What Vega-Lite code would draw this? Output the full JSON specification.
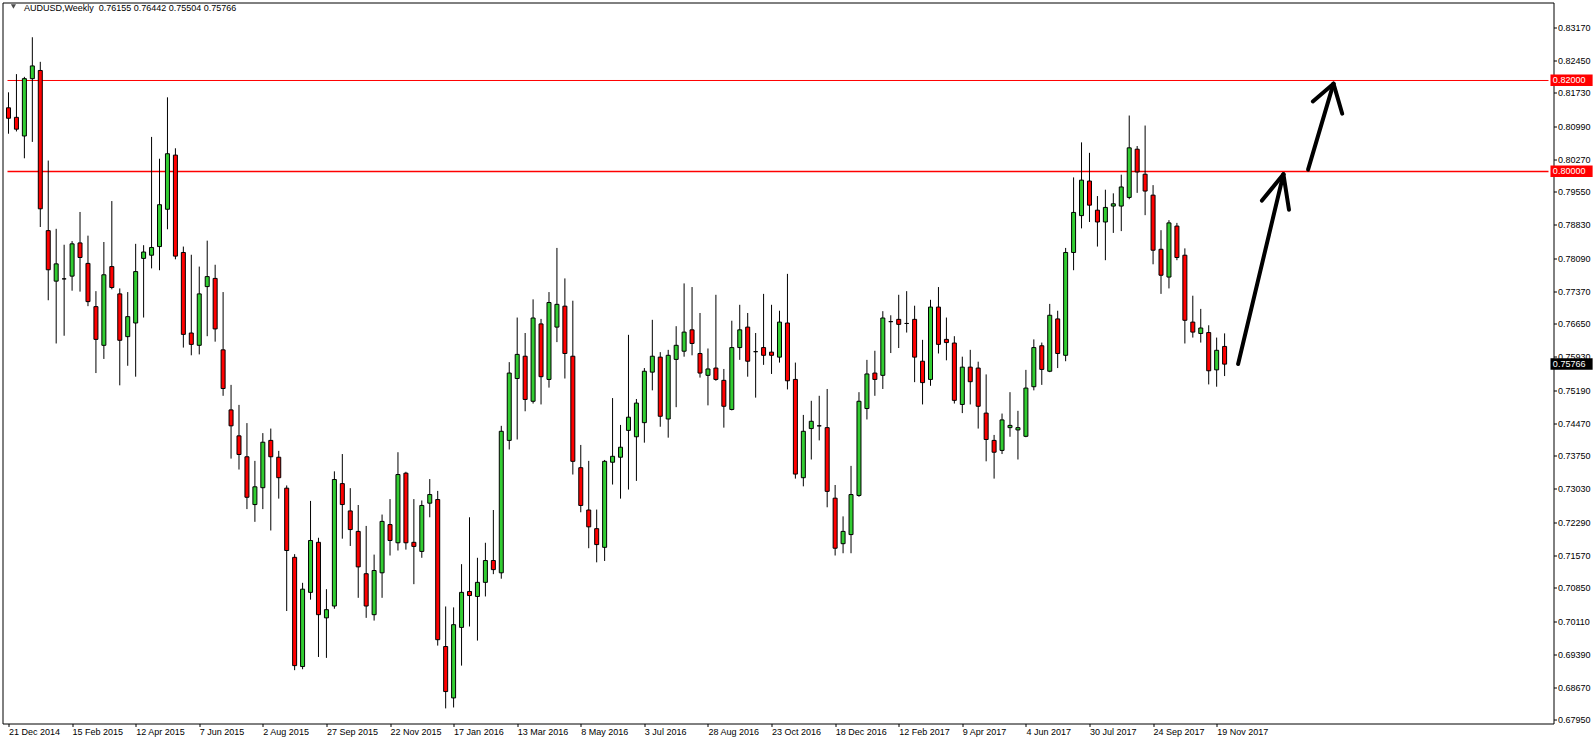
{
  "$schema": "https://vega.github.io/schema/vega-lite/v6.json",
  "width": 1551,
  "height": 721,
  "autosize": "none",
  "padding": {"left": 2.5, "top": 2.5, "right": 42.5, "bottom": 20.5},
  "background": "white",
  "config": {
    "view": {"stroke": "black", "strokeWidth": 1},
    "font": "Liberation Sans",
    "axis": {"labelFont": "Liberation Sans", "labelFontSize": 9, "labelColor": "black", "tickColor": "black", "domain": false, "grid": false, "title": null}
  },
  "datasets": {
    "candles": [
      {"i":0,"o":0.8140,"h":0.8174,"l":0.8083,"c":0.8117},
      {"i":1,"o":0.8119,"h":0.8214,"l":0.8088,"c":0.8093},
      {"i":2,"o":0.8078,"h":0.8208,"l":0.8029,"c":0.8204},
      {"i":3,"o":0.8204,"h":0.8295,"l":0.8065,"c":0.8232},
      {"i":4,"o":0.8222,"h":0.8241,"l":0.7878,"c":0.7918},
      {"i":5,"o":0.7870,"h":0.8024,"l":0.7717,"c":0.7784},
      {"i":6,"o":0.7759,"h":0.7874,"l":0.7622,"c":0.7797},
      {"i":7,"o":0.7764,"h":0.7839,"l":0.7639,"c":0.7764},
      {"i":8,"o":0.7770,"h":0.7847,"l":0.7738,"c":0.7841},
      {"i":9,"o":0.7843,"h":0.7911,"l":0.7736,"c":0.7811},
      {"i":10,"o":0.7798,"h":0.7859,"l":0.7704,"c":0.7714},
      {"i":11,"o":0.7703,"h":0.7737,"l":0.7557,"c":0.7631},
      {"i":12,"o":0.7618,"h":0.7845,"l":0.7588,"c":0.7773},
      {"i":13,"o":0.7791,"h":0.7935,"l":0.7741,"c":0.7745},
      {"i":14,"o":0.7731,"h":0.7743,"l":0.7530,"c":0.7629},
      {"i":15,"o":0.7637,"h":0.7735,"l":0.7573,"c":0.7681},
      {"i":16,"o":0.7667,"h":0.7841,"l":0.7549,"c":0.7780},
      {"i":17,"o":0.7809,"h":0.7838,"l":0.7679,"c":0.7823},
      {"i":18,"o":0.7816,"h":0.8076,"l":0.7787,"c":0.7833},
      {"i":19,"o":0.7835,"h":0.8028,"l":0.7783,"c":0.7927},
      {"i":20,"o":0.7917,"h":0.8163,"l":0.7873,"c":0.8039},
      {"i":21,"o":0.8036,"h":0.8051,"l":0.7807,"c":0.7814},
      {"i":22,"o":0.7822,"h":0.7835,"l":0.7613,"c":0.7642},
      {"i":23,"o":0.7645,"h":0.7817,"l":0.7596,"c":0.7620},
      {"i":24,"o":0.7618,"h":0.7791,"l":0.7598,"c":0.7731},
      {"i":25,"o":0.7747,"h":0.7848,"l":0.7638,"c":0.7769},
      {"i":26,"o":0.7765,"h":0.7795,"l":0.7626,"c":0.7654},
      {"i":27,"o":0.7608,"h":0.7735,"l":0.7507,"c":0.7523},
      {"i":28,"o":0.7476,"h":0.7531,"l":0.7369,"c":0.7441},
      {"i":29,"o":0.7419,"h":0.7487,"l":0.7345,"c":0.7378},
      {"i":30,"o":0.7373,"h":0.7447,"l":0.7258,"c":0.7284},
      {"i":31,"o":0.7268,"h":0.7364,"l":0.7230,"c":0.7307},
      {"i":32,"o":0.7305,"h":0.7425,"l":0.7258,"c":0.7405},
      {"i":33,"o":0.7409,"h":0.7435,"l":0.7211,"c":0.7373},
      {"i":34,"o":0.7372,"h":0.7386,"l":0.7281,"c":0.7327},
      {"i":35,"o":0.7304,"h":0.7310,"l":0.7034,"c":0.7167},
      {"i":36,"o":0.7152,"h":0.7159,"l":0.6904,"c":0.6914},
      {"i":37,"o":0.6912,"h":0.7096,"l":0.6906,"c":0.7082},
      {"i":38,"o":0.7075,"h":0.7276,"l":0.7059,"c":0.7189},
      {"i":39,"o":0.7185,"h":0.7195,"l":0.6933,"c":0.7026},
      {"i":40,"o":0.7019,"h":0.7082,"l":0.6931,"c":0.7037},
      {"i":41,"o":0.7045,"h":0.7341,"l":0.7039,"c":0.7323},
      {"i":42,"o":0.7314,"h":0.7379,"l":0.7193,"c":0.7268},
      {"i":43,"o":0.7254,"h":0.7304,"l":0.7177,"c":0.7213},
      {"i":44,"o":0.7209,"h":0.7267,"l":0.7063,"c":0.7131},
      {"i":45,"o":0.7116,"h":0.7221,"l":0.7019,"c":0.7045},
      {"i":46,"o":0.7026,"h":0.7158,"l":0.7013,"c":0.7123},
      {"i":47,"o":0.7118,"h":0.7246,"l":0.7063,"c":0.7231},
      {"i":48,"o":0.7224,"h":0.7280,"l":0.7156,"c":0.7189},
      {"i":49,"o":0.7184,"h":0.7383,"l":0.7167,"c":0.7334},
      {"i":50,"o":0.7337,"h":0.7340,"l":0.7169,"c":0.7184},
      {"i":51,"o":0.7185,"h":0.7280,"l":0.7093,"c":0.7176},
      {"i":52,"o":0.7165,"h":0.7277,"l":0.7151,"c":0.7266},
      {"i":53,"o":0.7271,"h":0.7324,"l":0.7240,"c":0.7290},
      {"i":54,"o":0.7279,"h":0.7298,"l":0.6958,"c":0.6971},
      {"i":55,"o":0.6956,"h":0.7044,"l":0.6820,"c":0.6857},
      {"i":56,"o":0.6843,"h":0.7042,"l":0.6822,"c":0.7004},
      {"i":57,"o":0.6998,"h":0.7137,"l":0.6914,"c":0.7075},
      {"i":58,"o":0.7077,"h":0.7240,"l":0.7000,"c":0.7068},
      {"i":59,"o":0.7066,"h":0.7151,"l":0.6969,"c":0.7097},
      {"i":60,"o":0.7097,"h":0.7184,"l":0.7066,"c":0.7145},
      {"i":61,"o":0.7145,"h":0.7256,"l":0.7115,"c":0.7125},
      {"i":62,"o":0.7118,"h":0.7441,"l":0.7105,"c":0.7429},
      {"i":63,"o":0.7409,"h":0.7581,"l":0.7389,"c":0.7557},
      {"i":64,"o":0.7545,"h":0.7679,"l":0.7411,"c":0.7598},
      {"i":65,"o":0.7594,"h":0.7645,"l":0.7473,"c":0.7499},
      {"i":66,"o":0.7495,"h":0.7719,"l":0.7490,"c":0.7678},
      {"i":67,"o":0.7665,"h":0.7676,"l":0.7488,"c":0.7549},
      {"i":68,"o":0.7543,"h":0.7735,"l":0.7525,"c":0.7712},
      {"i":69,"o":0.7658,"h":0.7832,"l":0.7625,"c":0.7708},
      {"i":70,"o":0.7704,"h":0.7765,"l":0.7545,"c":0.7600},
      {"i":71,"o":0.7594,"h":0.7716,"l":0.7334,"c":0.7363},
      {"i":72,"o":0.7349,"h":0.7399,"l":0.7251,"c":0.7266},
      {"i":73,"o":0.7256,"h":0.7364,"l":0.7172,"c":0.7219},
      {"i":74,"o":0.7215,"h":0.7257,"l":0.7141,"c":0.7180},
      {"i":75,"o":0.7174,"h":0.7366,"l":0.7144,"c":0.7363},
      {"i":76,"o":0.7361,"h":0.7502,"l":0.7312,"c":0.7374},
      {"i":77,"o":0.7372,"h":0.7443,"l":0.7281,"c":0.7394},
      {"i":78,"o":0.7431,"h":0.7641,"l":0.7301,"c":0.7460},
      {"i":79,"o":0.7417,"h":0.7500,"l":0.7320,"c":0.7491},
      {"i":80,"o":0.7448,"h":0.7568,"l":0.7404,"c":0.7561},
      {"i":81,"o":0.7559,"h":0.7674,"l":0.7519,"c":0.7594},
      {"i":82,"o":0.7592,"h":0.7603,"l":0.7439,"c":0.7462},
      {"i":83,"o":0.7456,"h":0.7608,"l":0.7415,"c":0.7596},
      {"i":84,"o":0.7587,"h":0.7660,"l":0.7482,"c":0.7618},
      {"i":85,"o":0.7605,"h":0.7754,"l":0.7593,"c":0.7647},
      {"i":86,"o":0.7652,"h":0.7746,"l":0.7596,"c":0.7622},
      {"i":87,"o":0.7600,"h":0.7689,"l":0.7547,"c":0.7557},
      {"i":88,"o":0.7552,"h":0.7611,"l":0.7486,"c":0.7566},
      {"i":89,"o":0.7568,"h":0.7729,"l":0.7540,"c":0.7543},
      {"i":90,"o":0.7541,"h":0.7566,"l":0.7437,"c":0.7484},
      {"i":91,"o":0.7477,"h":0.7672,"l":0.7475,"c":0.7613},
      {"i":92,"o":0.7613,"h":0.7707,"l":0.7586,"c":0.7652},
      {"i":93,"o":0.7658,"h":0.7689,"l":0.7549,"c":0.7583},
      {"i":94,"o":0.7604,"h":0.7645,"l":0.7503,"c":0.7604},
      {"i":95,"o":0.7613,"h":0.7731,"l":0.7575,"c":0.7596},
      {"i":96,"o":0.7603,"h":0.7707,"l":0.7555,"c":0.7596},
      {"i":97,"o":0.7592,"h":0.7694,"l":0.7580,"c":0.7669},
      {"i":98,"o":0.7667,"h":0.7775,"l":0.7521,"c":0.7540},
      {"i":99,"o":0.7543,"h":0.7580,"l":0.7325,"c":0.7335},
      {"i":100,"o":0.7327,"h":0.7465,"l":0.7308,"c":0.7429},
      {"i":101,"o":0.7435,"h":0.7496,"l":0.7367,"c":0.7451},
      {"i":102,"o":0.7441,"h":0.7507,"l":0.7409,"c":0.7441},
      {"i":103,"o":0.7437,"h":0.7522,"l":0.7262,"c":0.7297},
      {"i":104,"o":0.7282,"h":0.7311,"l":0.7156,"c":0.7172},
      {"i":105,"o":0.7182,"h":0.7242,"l":0.7161,"c":0.7209},
      {"i":106,"o":0.7202,"h":0.7353,"l":0.7161,"c":0.7290},
      {"i":107,"o":0.7288,"h":0.7515,"l":0.7285,"c":0.7495},
      {"i":108,"o":0.7479,"h":0.7586,"l":0.7455,"c":0.7555},
      {"i":109,"o":0.7557,"h":0.7606,"l":0.7507,"c":0.7543},
      {"i":110,"o":0.7552,"h":0.7693,"l":0.7522,"c":0.7678},
      {"i":111,"o":0.7670,"h":0.7684,"l":0.7601,"c":0.7670},
      {"i":112,"o":0.7675,"h":0.7729,"l":0.7612,"c":0.7664},
      {"i":113,"o":0.7666,"h":0.7737,"l":0.7646,"c":0.7666},
      {"i":114,"o":0.7675,"h":0.7705,"l":0.7537,"c":0.7592},
      {"i":115,"o":0.7583,"h":0.7630,"l":0.7488,"c":0.7536},
      {"i":116,"o":0.7543,"h":0.7718,"l":0.7529,"c":0.7702},
      {"i":117,"o":0.7702,"h":0.7746,"l":0.7600,"c":0.7620},
      {"i":118,"o":0.7631,"h":0.7679,"l":0.7585,"c":0.7624},
      {"i":119,"o":0.7623,"h":0.7638,"l":0.7490,"c":0.7497},
      {"i":120,"o":0.7488,"h":0.7593,"l":0.7469,"c":0.7570},
      {"i":121,"o":0.7570,"h":0.7608,"l":0.7488,"c":0.7538},
      {"i":122,"o":0.7568,"h":0.7582,"l":0.7435,"c":0.7484},
      {"i":123,"o":0.7469,"h":0.7554,"l":0.7363,"c":0.7411},
      {"i":124,"o":0.7409,"h":0.7421,"l":0.7325,"c":0.7383},
      {"i":125,"o":0.7387,"h":0.7468,"l":0.7379,"c":0.7454},
      {"i":126,"o":0.7437,"h":0.7515,"l":0.7417,"c":0.7442},
      {"i":127,"o":0.7432,"h":0.7474,"l":0.7367,"c":0.7437},
      {"i":128,"o":0.7418,"h":0.7564,"l":0.7416,"c":0.7524},
      {"i":129,"o":0.7527,"h":0.7631,"l":0.7519,"c":0.7613},
      {"i":130,"o":0.7617,"h":0.7624,"l":0.7531,"c":0.7565},
      {"i":131,"o":0.7561,"h":0.7709,"l":0.7559,"c":0.7684},
      {"i":132,"o":0.7676,"h":0.7694,"l":0.7568,"c":0.7600},
      {"i":133,"o":0.7596,"h":0.7832,"l":0.7583,"c":0.7822},
      {"i":134,"o":0.7822,"h":0.7987,"l":0.7783,"c":0.7910},
      {"i":135,"o":0.7903,"h":0.8064,"l":0.7875,"c":0.7981},
      {"i":136,"o":0.7979,"h":0.8041,"l":0.7889,"c":0.7926},
      {"i":137,"o":0.7915,"h":0.7946,"l":0.7835,"c":0.7889},
      {"i":138,"o":0.7889,"h":0.7960,"l":0.7805,"c":0.7921},
      {"i":139,"o":0.7924,"h":0.7952,"l":0.7865,"c":0.7929},
      {"i":140,"o":0.7924,"h":0.7993,"l":0.7869,"c":0.7966},
      {"i":141,"o":0.7943,"h":0.8123,"l":0.7939,"c":0.8052},
      {"i":142,"o":0.8049,"h":0.8056,"l":0.7953,"c":0.7999},
      {"i":143,"o":0.7994,"h":0.8101,"l":0.7904,"c":0.7957},
      {"i":144,"o":0.7948,"h":0.7970,"l":0.7796,"c":0.7827},
      {"i":145,"o":0.7829,"h":0.7871,"l":0.7731,"c":0.7772},
      {"i":146,"o":0.7768,"h":0.7893,"l":0.7743,"c":0.7887},
      {"i":147,"o":0.7880,"h":0.7887,"l":0.7805,"c":0.7811},
      {"i":148,"o":0.7816,"h":0.7831,"l":0.7622,"c":0.7673},
      {"i":149,"o":0.7669,"h":0.7727,"l":0.7635,"c":0.7647},
      {"i":150,"o":0.7644,"h":0.7698,"l":0.7624,"c":0.7656},
      {"i":151,"o":0.7646,"h":0.7662,"l":0.7532,"c":0.7562},
      {"i":152,"o":0.7564,"h":0.7635,"l":0.7527,"c":0.7607},
      {"i":153,"o":0.76155,"h":0.76442,"l":0.75504,"c":0.75766}
    ],
    "levels": [{"p": 0.82}, {"p": 0.80}],
    "tags": [{"p": 0.82, "kind": "level"}, {"p": 0.80, "kind": "level"}, {"p": 0.75766, "kind": "last"}],
    "arrows": [
      {"x1": 154.7, "y1": 0.7577, "x2": 160.4, "y2": 0.7994},
      {"x1": 157.7, "y1": 0.7936, "x2": 160.4, "y2": 0.7994},
      {"x1": 161.1, "y1": 0.7916, "x2": 160.4, "y2": 0.7994},
      {"x1": 163.5, "y1": 0.8004, "x2": 166.7, "y2": 0.8193},
      {"x1": 164.1, "y1": 0.8154, "x2": 166.7, "y2": 0.8193},
      {"x1": 167.8, "y1": 0.8127, "x2": 166.7, "y2": 0.8193}
    ],
    "header": [{"label": "AUDUSD,Weekly\u00a0 0.76155 0.76442 0.75504 0.75766"}]
  },
  "encoding": {
    "x": {
      "type": "quantitative",
      "title": null,
      "scale": {"domain": [-0.125, 193.75], "nice": false, "zero": false},
      "axis": {
        "orient": "bottom",
        "values": [0, 8, 16, 24, 32, 40, 48, 56, 64, 72, 80, 88, 96, 104, 112, 120, 128, 136, 144, 152],
        "labelExpr": "['21 Dec 2014','15 Feb 2015','12 Apr 2015','7 Jun 2015','2 Aug 2015','27 Sep 2015','22 Nov 2015','17 Jan 2016','13 Mar 2016','8 May 2016','3 Jul 2016','28 Aug 2016','23 Oct 2016','18 Dec 2016','12 Feb 2017','9 Apr 2017','4 Jun 2017','30 Jul 2017','24 Sep 2017','19 Nov 2017'][round(datum.value / 8)]",
        "labelAlign": "left",
        "labelBaseline": "top",
        "tickSize": 3,
        "labelPadding": 1,
        "labelFlush": false,
        "labelOverlap": false,
        "labelBound": false
      }
    },
    "y": {
      "type": "quantitative",
      "title": null,
      "scale": {"domain": [0.67868, 0.83714], "nice": false, "zero": false},
      "axis": {
        "orient": "right",
        "values": [0.6795, 0.6867, 0.6939, 0.7011, 0.7085, 0.7157, 0.7229, 0.7303, 0.7375, 0.7447, 0.7519, 0.7593, 0.7665, 0.7737, 0.7809, 0.7883, 0.7955, 0.8027, 0.8099, 0.8173, 0.8245, 0.8317],
        "format": ".5f",
        "labelAlign": "left",
        "labelBaseline": "middle",
        "tickSize": 3,
        "labelPadding": 1,
        "labelFlush": false,
        "labelOverlap": false,
        "labelBound": false
      }
    }
  },
  "layer": [
    {
      "data": {"name": "levels"},
      "mark": {"type": "rule", "color": "#FF0000"},
      "encoding": {
        "x": {"datum": -0.125},
        "x2": {"datum": 193.75},
        "y": {"field": "p"},
        "strokeWidth": {"condition": {"test": "datum.p == 0.8", "value": 1.5}, "value": 1}
      }
    },
    {
      "data": {"name": "candles"},
      "mark": {"type": "rule", "color": "black", "strokeWidth": 1},
      "encoding": {
        "x": {"field": "i"},
        "y": {"field": "l"},
        "y2": {"field": "h"}
      }
    },
    {
      "data": {"name": "candles"},
      "mark": {"type": "bar", "width": 4, "stroke": "black", "strokeWidth": 1},
      "encoding": {
        "x": {"field": "i"},
        "y": {"field": "o"},
        "y2": {"field": "c"},
        "fill": {"condition": {"test": "datum.c > datum.o", "value": "#32CD32"}, "value": "#FF0000"}
      }
    },
    {
      "data": {"name": "arrows"},
      "mark": {"type": "rule", "color": "black", "strokeWidth": 4, "strokeCap": "round"},
      "encoding": {
        "x": {"field": "x1"},
        "x2": {"field": "x2"},
        "y": {"field": "y1"},
        "y2": {"field": "y2"}
      }
    },
    {
      "data": {"name": "tags"},
      "mark": {"type": "rect", "yOffset": -6, "y2Offset": 5.5, "clip": false},
      "encoding": {
        "x": {"datum": 194.0},
        "x2": {"datum": 199.3},
        "y": {"field": "p"},
        "y2": {"field": "p"},
        "fill": {"condition": {"test": "datum.kind == 'last'", "value": "black"}, "value": "#FF0000"}
      }
    },
    {
      "data": {"name": "tags"},
      "mark": {"type": "text", "align": "left", "baseline": "middle", "color": "white", "font": "Liberation Sans", "fontSize": 9, "clip": false},
      "encoding": {
        "x": {"datum": 194.3},
        "y": {"field": "p"},
        "text": {"field": "p", "format": ".5f"}
      }
    },
    {
      "data": {"name": "header"},
      "mark": {"type": "text", "align": "left", "baseline": "alphabetic", "color": "black", "font": "Liberation Sans", "fontSize": 9},
      "encoding": {
        "x": {"datum": 1.9375},
        "y": {"datum": 0.83527},
        "text": {"field": "label"}
      }
    },
    {
      "data": {"name": "header"},
      "mark": {"type": "point", "shape": "triangle-down", "filled": true, "color": "black", "size": 26},
      "encoding": {
        "x": {"datum": 0.625},
        "y": {"datum": 0.83626}
      }
    }
  ]
}
